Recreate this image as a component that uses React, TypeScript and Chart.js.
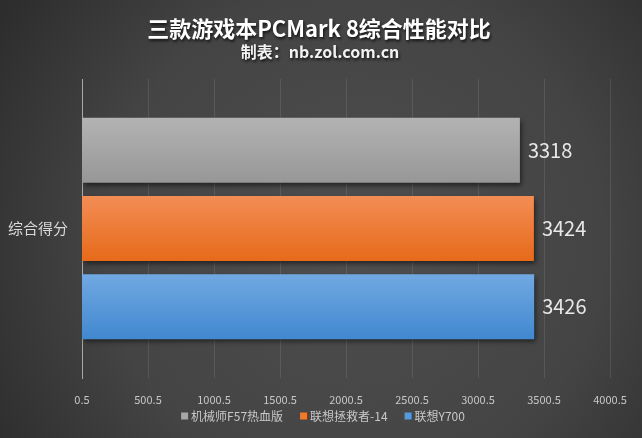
import { useEffect, useRef } from "react";
import { Chart, registerables } from "chart.js";

Chart.register(...registerables);

const titleText = "三款游戏本PCMark 8综合性能对比";
const subtitleText = "制表：nb.zol.com.cn";
const categories = ["综合得分"];
const seriesNames = ["机械师F57热血版", "联想拯救者-14", "联想Y700"];
const f57Values = [3318];
const legion14Values = [3424];
const y700Values = [3426];
const xTickValues = [0.5, 500.5, 1000.5, 1500.5, 2000.5, 2500.5, 3000.5, 3500.5, 4000.5];

const FONT = '"Noto Sans CJK SC", "Noto Sans", sans-serif';
const solidColors = ["#a6a6a6", "#ef7a2e", "#559ade"];
const gradStops: [string, string][] = [
  ["#b3b3b3", "#979797"],
  ["#f38d55", "#e66a1a"],
  ["#71a9e2", "#4188cf"],
];

const bgPlugin = {
  id: "bgPlugin",
  beforeDraw(chart: any) {
    const { ctx, width, height } = chart;
    ctx.save();
    const g = ctx.createRadialGradient(width * 0.55, height * 0.55, 0, width * 0.55, height * 0.55, width * 0.65);
    g.addColorStop(0, "#4e4e4e");
    g.addColorStop(0.6, "#444444");
    g.addColorStop(1, "#2d2d2d");
    ctx.fillStyle = g;
    ctx.fillRect(0, 0, width, height);
    ctx.textAlign = "center";
    ctx.textBaseline = "middle";
    ctx.shadowColor = "rgba(0,0,0,0.75)";
    ctx.shadowBlur = 3;
    ctx.shadowOffsetX = 1;
    ctx.shadowOffsetY = 2;
    ctx.fillStyle = "#ffffff";
    ctx.font = `bold 22px ${FONT}`;
    ctx.fillText(titleText, 319, 29);
    ctx.fillStyle = "#f2f2f2";
    ctx.font = `bold 16px ${FONT}`;
    ctx.fillText(subtitleText, 320, 52);
    ctx.restore();
  },
};

const legendPlugin = {
  id: "customLegend",
  afterDraw(chart: any) {
    const { ctx } = chart;
    ctx.save();
    ctx.font = `12px ${FONT}`;
    ctx.textBaseline = "middle";
    ctx.textAlign = "left";
    const box = 7;
    const gapBoxText = 3;
    const gapItems = 17;
    const items = chart.data.datasets.map((ds: any) => ({
      text: ds.label as string,
      color: ds.backgroundColor as string,
      w: ctx.measureText(ds.label).width,
    }));
    const total =
      items.reduce((s: number, it: any) => s + box + gapBoxText + it.w, 0) + gapItems * (items.length - 1);
    let x = 323 - total / 2;
    const y = 416;
    items.forEach((it: any) => {
      ctx.fillStyle = it.color;
      ctx.fillRect(x, y - box / 2, box, box);
      x += box + gapBoxText;
      ctx.fillStyle = "#c8c8c8";
      ctx.fillText(it.text, x, y);
      x += it.w + gapItems;
    });
    ctx.restore();
  },
};

const barStylePlugin = {
  id: "barStylePlugin",
  beforeDatasetsDraw(chart: any) {
    const { ctx } = chart;
    chart.data.datasets.forEach((_: any, di: number) => {
      const meta = chart.getDatasetMeta(di);
      meta.data.forEach((el: any) => {
        const { y, height } = el.getProps(["y", "height"], true);
        const g = ctx.createLinearGradient(0, y - height / 2, 0, y + height / 2);
        g.addColorStop(0, gradStops[di][0]);
        g.addColorStop(1, gradStops[di][1]);
        el.options.backgroundColor = g;
      });
    });
  },
  beforeDatasetDraw(chart: any) {
    const { ctx } = chart;
    ctx.save();
    ctx.shadowColor = "rgba(0,0,0,0.55)";
    ctx.shadowBlur = 5;
    ctx.shadowOffsetX = 2;
    ctx.shadowOffsetY = 3;
  },
  afterDatasetDraw(chart: any) {
    chart.ctx.restore();
  },
  afterDatasetsDraw(chart: any) {
    const { ctx } = chart;
    ctx.save();
    ctx.font = `20px ${FONT}`;
    ctx.fillStyle = "#e8e8e8";
    ctx.textAlign = "left";
    ctx.textBaseline = "middle";
    chart.data.datasets.forEach((ds: any, di: number) => {
      const meta = chart.getDatasetMeta(di);
      meta.data.forEach((el: any, i: number) => {
        const { x, y } = el.getProps(["x", "y"], true);
        ctx.fillText(String(ds.data[i]), x + 8, y);
      });
    });
    ctx.restore();
  },
};

export default function App() {
  const canvasRef = useRef<HTMLCanvasElement | null>(null);

  useEffect(() => {
    document.body.style.margin = "0";
    const canvas = canvasRef.current;
    if (!canvas) return;
    const chart = new Chart(canvas, {
      type: "bar",
      data: {
        labels: categories,
        datasets: [
          { label: seriesNames[0], data: f57Values, backgroundColor: solidColors[0], borderWidth: 0 },
          { label: seriesNames[1], data: legion14Values, backgroundColor: solidColors[1], borderWidth: 0 },
          { label: seriesNames[2], data: y700Values, backgroundColor: solidColors[2], borderWidth: 0 },
        ],
      },
      options: {
        indexAxis: "y",
        animation: false,
        responsive: true,
        maintainAspectRatio: false,
        layout: { padding: { top: 79, right: 32, bottom: 31, left: 0 } },
        datasets: { bar: { categoryPercentage: 0.785, barPercentage: 0.833 } },
        scales: {
          x: {
            type: "linear",
            min: 0.5,
            max: 4000.5,
            afterBuildTicks: (scale: any) => {
              scale.ticks = xTickValues.map((v) => ({ value: v }));
            },
            afterFit: (scale: any) => {
              scale.height = 29;
            },
            ticks: {
              color: "#c8c8c8",
              font: { family: FONT, size: 11 },
              padding: 15,
              maxRotation: 0,
              autoSkip: false,
              callback: (v: any) => String(v),
            },
            grid: { color: "rgba(255,255,255,0.1)", drawTicks: false, lineWidth: 1 },
            border: { display: false },
          },
          y: {
            afterFit: (scale: any) => {
              scale.width = 82;
            },
            ticks: {
              color: "#d9d9d9",
              font: { family: FONT, size: 15 },
              padding: 14,
            },
            grid: { display: false, drawTicks: false },
            border: { display: true, color: "#a8a8a8", width: 1 },
          },
        },
        plugins: {
          legend: { display: false },
          tooltip: { enabled: false },
        },
      },
      plugins: [bgPlugin, barStylePlugin, legendPlugin],
    });
    return () => chart.destroy();
  }, []);

  return (
    <div style={{ position: "relative", width: 642, height: 438 }}>
      <canvas ref={canvasRef} />
    </div>
  );
}
